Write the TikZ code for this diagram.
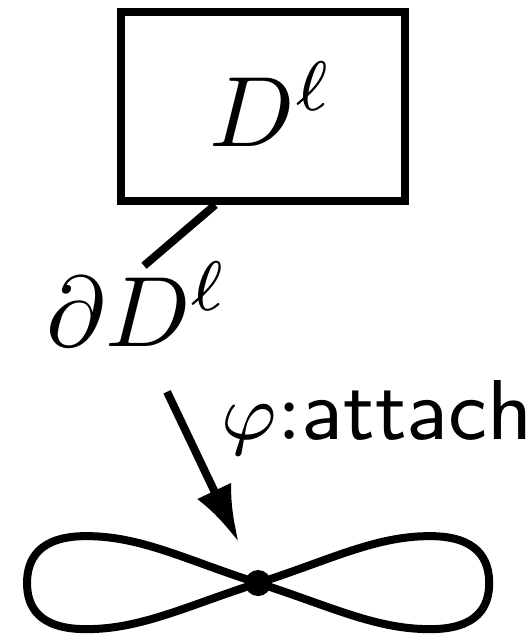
\documentclass[tikz,border=0pt]{standalone}
\usepackage{amsmath, amssymb}
\usetikzlibrary{arrows.meta}

\begin{document}
\begin{tikzpicture}[thick,
    lbl/.style={inner sep=0pt},
    dot/.style={circle, fill, inner sep=0pt, minimum size=2.6pt}]
    \useasboundingbox (0,0) rectangle (1.866,2.235);

    % Disk and its boundary
    \node[draw, minimum width=0.998cm, minimum height=0.664cm] (disk) at (0.925,1.861) {\raisebox{0.5pt}{$\,D^\ell$}};
    \node[lbl, anchor=base] (bdry) at (0.485,1.016) {$\partial D^\ell$};
    \draw[shorten >=-1.2pt] (disk.244) -- (bdry.72);

    % Wedge of two circles
    \begin{scope}[shift={(0.907,0.186)}]
        \foreach \s in {1,-1}
            \draw[xscale=\s, line join=round] (0,0) .. controls (0.253,0.081) and (0.411,0.165) .. (0.604,0.165)
                .. controls (0.773,0.165) and (0.812,0.081) .. (0.812,0)
                .. controls (0.812,-0.081) and (0.773,-0.162) .. (0.604,-0.162)
                .. controls (0.411,-0.162) and (0.253,-0.081) .. (0,0);
    \end{scope}
    \node[dot] (pt) at (0.907,0.186) {};

    % Attaching map
    \coordinate (src) at (0.587,0.858);
    \draw[-{Latex[length=5.7pt,width=3.8pt]}, shorten >=2.8pt] (src) -- (pt);
    \node[lbl, anchor=base west] (map) at (0.766,0.689) {\fontsize{8.5}{10}\selectfont$\varphi$:\textsf{attach}};
\end{tikzpicture}
\end{document}
